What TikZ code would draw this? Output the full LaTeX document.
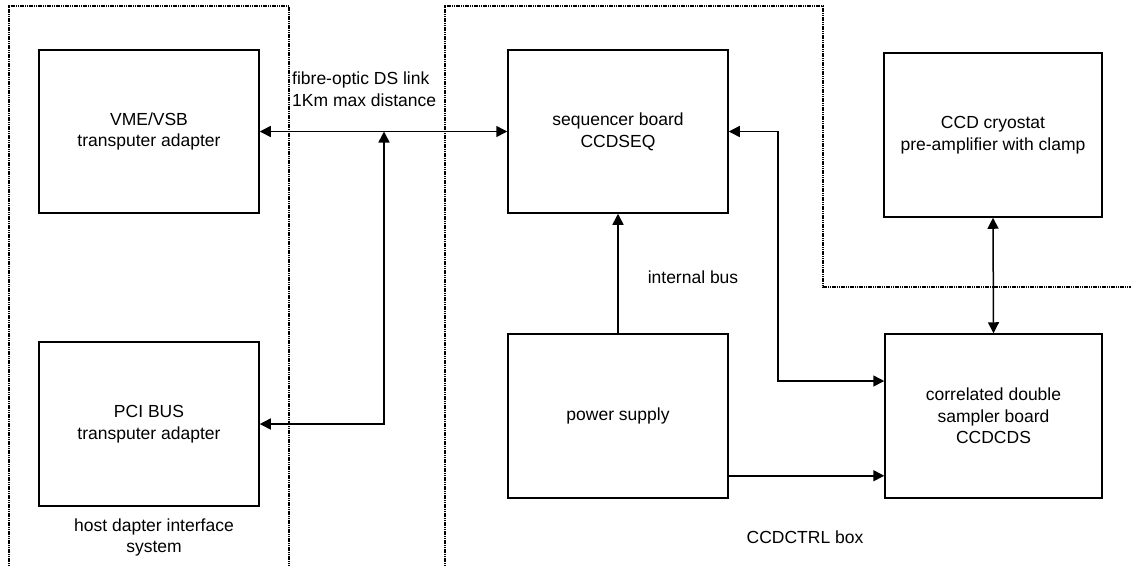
\documentclass[tikz,border=0pt]{standalone}
\usepackage{fontspec}
\setmainfont{Liberation Sans}
\usetikzlibrary{arrows.meta}
\begin{document}
\begin{tikzpicture}[x=1pt,y=-1pt,
  every node/.style={font=\fontsize{17.5pt}{21.7pt}\selectfont, inner sep=0pt},
  blk/.style={draw, line width=1.5pt, align=center},
  arr/.style={line width=1.5pt, -{Triangle[length=11pt,width=11pt]}},
  darr/.style={line width=1.5pt, {Triangle[length=11pt,width=11pt]}-{Triangle[length=11pt,width=11pt]}},
  bound/.style={line width=1.3pt, dash pattern=on 1.2pt off 0.6pt}]
\useasboundingbox (0,0) rectangle (1131,566);
% boundaries
\draw[bound] (9,566) -- (9,6) -- (289,6) -- (289,566);
\draw[bound] (445,566) -- (445,6) -- (823,6) -- (823,287) -- (1131,287);
% blocks
\node[blk, minimum width=220pt, minimum height=163pt] (vme) at (149,131.5) {VME/VSB\\transputer adapter};
\node[blk, minimum width=220pt, minimum height=164pt] (pci) at (149,424) {PCI BUS\\transputer adapter};
\node[blk, minimum width=220pt, minimum height=163pt] (seq) at (618,131.5) {sequencer board\\CCDSEQ};
\node[blk, minimum width=218pt, minimum height=164pt] (cryo) at (993,135) {CCD cryostat\\pre-amplifier with clamp};
\node[blk, minimum width=220pt, minimum height=164pt] (pw) at (618,416) {power supply};
\node[blk, minimum width=217pt, minimum height=164pt] (cds) at (993.5,416) {correlated double\\sampler board\\CCDCDS};
% labels
\node[anchor=west, align=left] (fib) at (292,89.5) {fibre-optic DS link\\1Km max distance};
\node (ib) at (693,277) {internal bus};
\node[align=center] (host) at (154,537.5) {host dapter interface\\system};
\node (ctrl) at (805,537) {CCDCTRL box};
% connectors
\coordinate (j) at (384,131.5);
\coordinate (c1) at (778,381);
\coordinate (pwo) at ([yshift=23pt]pw.south east);
\draw[darr] (vme.east) -- (seq.west);
\draw[darr] (pci.east) -| (j);
\draw[arr] (pw.north) -- (seq.south);
\draw[darr] (seq.east) -| (c1) -- (c1 -| cds.west);
\draw[arr] (pwo) -- (pwo -| cds.west);
\draw[darr] (cryo.south) -- (cds.north);
\end{tikzpicture}
\end{document}
